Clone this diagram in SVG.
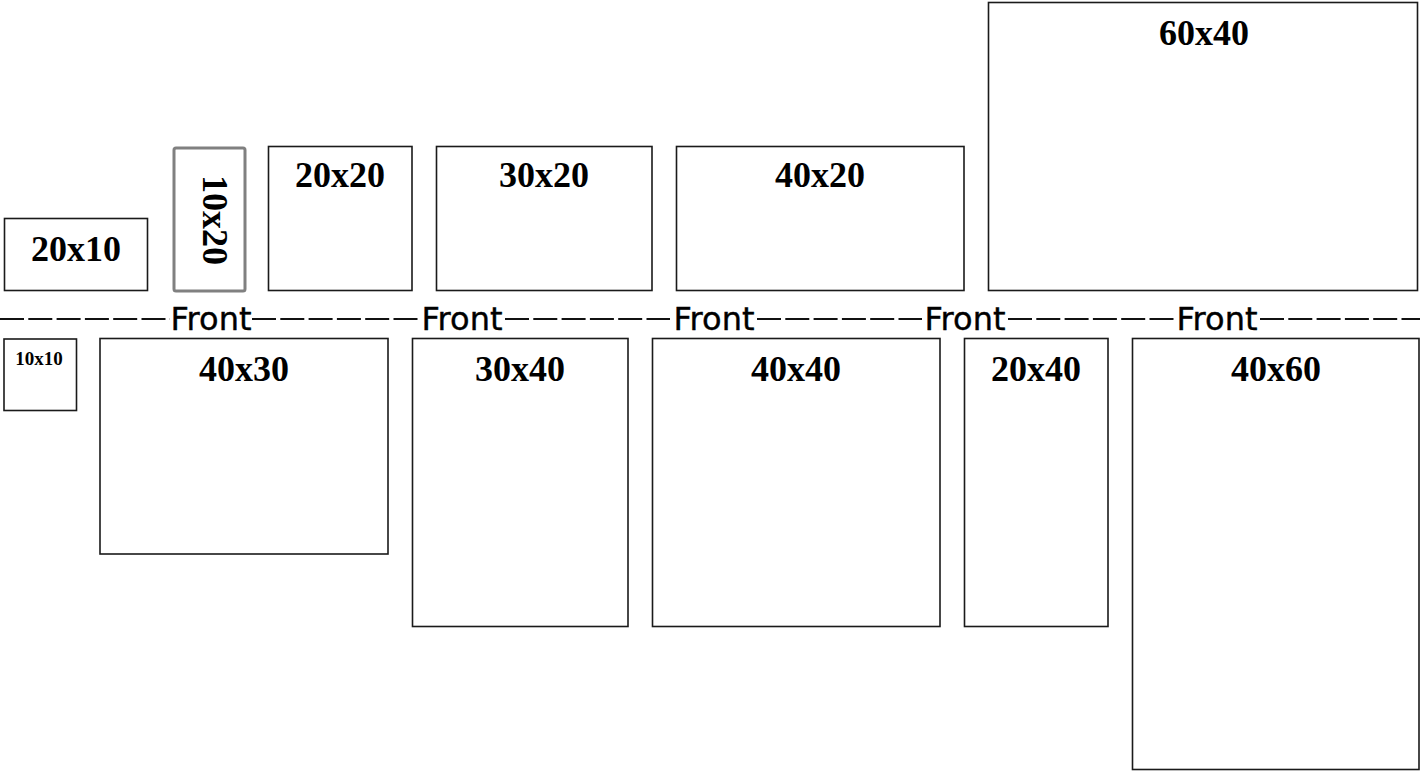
<svg xmlns="http://www.w3.org/2000/svg" width="1420" height="772" viewBox="0 0 1420 772">
<style>
.box{fill:#fff;stroke:#1a1a1a;stroke-width:1.6}
.gbox{fill:#fff;stroke:#808080;stroke-width:3}
.lbl{font-family:"Liberation Serif","Times New Roman",serif;font-weight:bold;font-size:36px;fill:#000;text-anchor:middle}
.sm{font-size:19px}
.front{font-family:"DejaVu Sans",Verdana,sans-serif;font-size:32px;fill:#000;stroke:#000;stroke-width:0.4;text-anchor:middle}
.dash{stroke:#111;stroke-width:2;stroke-dasharray:24 4.3;fill:none}
</style>
<rect width="1420" height="772" fill="#fff"/>
<g id="connectors">
<line class="dash" x1="0" y1="319" x2="170" y2="319"/>
<line class="dash" x1="252" y1="319" x2="418" y2="319"/>
<line class="dash" x1="505" y1="319" x2="670" y2="319"/>
<line class="dash" x1="757" y1="319" x2="922" y2="319"/>
<line class="dash" x1="1008" y1="319" x2="1174" y2="319"/>
<line class="dash" x1="1260" y1="319" x2="1420" y2="319"/>
<text class="front" x="211" y="330">Front</text>
<text class="front" x="462" y="330">Front</text>
<text class="front" x="714" y="330">Front</text>
<text class="front" x="965" y="330">Front</text>
<text class="front" x="1217" y="330">Front</text>
</g>
<g id="n20x10"><rect class="box" x="4.5" y="218.5" width="143" height="72"/><text class="lbl" x="76" y="261">20x10</text></g>
<g id="n10x20"><rect class="gbox" x="174" y="148" width="71" height="143" rx="2"/><text class="lbl" transform="translate(203,220) rotate(90)" x="0" y="0">10x20</text></g>
<g id="n20x20"><rect class="box" x="268.5" y="146.5" width="143.5" height="144"/><text class="lbl" x="340" y="187">20x20</text></g>
<g id="n30x20"><rect class="box" x="436.5" y="146.5" width="215.5" height="144"/><text class="lbl" x="544" y="187">30x20</text></g>
<g id="n40x20"><rect class="box" x="676.5" y="146.5" width="287.5" height="144"/><text class="lbl" x="820" y="187">40x20</text></g>
<g id="n60x40"><rect class="box" x="988.5" y="2.5" width="429" height="288"/><text class="lbl" x="1204" y="45">60x40</text></g>
<g id="n10x10"><rect class="box" x="4" y="339" width="72.5" height="71.5"/><text class="lbl sm" x="39" y="365">10x10</text></g>
<g id="n40x30"><rect class="box" x="100" y="338.5" width="288" height="215.5"/><text class="lbl" x="244" y="381">40x30</text></g>
<g id="n30x40"><rect class="box" x="412.5" y="338.5" width="215.5" height="288"/><text class="lbl" x="520" y="381">30x40</text></g>
<g id="n40x40"><rect class="box" x="652.5" y="338.5" width="287.5" height="288"/><text class="lbl" x="796" y="381">40x40</text></g>
<g id="n20x40"><rect class="box" x="964.5" y="338.5" width="143.5" height="288"/><text class="lbl" x="1036" y="381">20x40</text></g>
<g id="n40x60"><rect class="box" x="1132.5" y="338.5" width="286.5" height="431"/><text class="lbl" x="1276" y="381">40x60</text></g>
</svg>
